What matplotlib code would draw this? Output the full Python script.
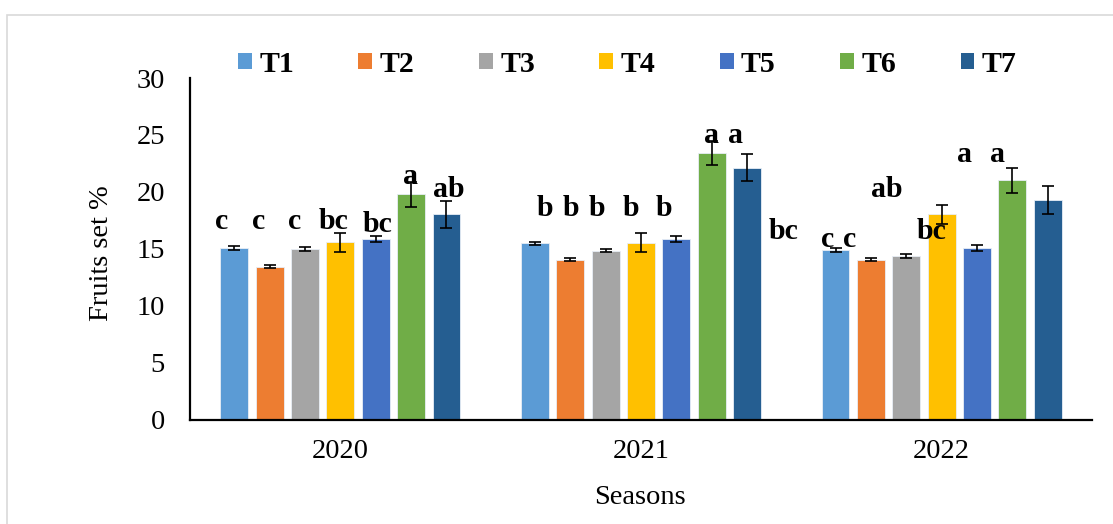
import matplotlib
matplotlib.use("Agg")
import matplotlib.pyplot as plt
import numpy as np
from matplotlib.patches import Patch, Rectangle

# ---------------- data ----------------
seasons = ["2020", "2021", "2022"]
treatments = ["T1", "T2", "T3", "T4", "T5", "T6", "T7"]
T1 = [15.10, 15.48, 14.90]
T2 = [13.43, 14.04, 14.04]
T3 = [14.98, 14.83, 14.37]
T4 = [15.57, 15.51, 18.03]
T5 = [15.83, 15.83, 15.07]
T6 = [19.79, 23.42, 21.02]
T7 = [18.03, 22.13, 19.29]
E1 = [0.17, 0.15, 0.15]
E2 = [0.15, 0.15, 0.15]
E3 = [0.17, 0.15, 0.15]
E4 = [0.83, 0.83, 0.85]
E5 = [0.25, 0.26, 0.26]
E6 = [1.10, 1.05, 1.10]
E7 = [1.20, 1.22, 1.22]
yticks = [0, 5, 10, 15, 20, 25, 30]

# significance letters per season
letters_2020 = ["c", "c", "c", "bc", "bc", "a", "ab"]
letters_2021 = ["b", "b", "b", "b", "b", "a", "a", "bc"]
letters_2022 = ["c", "c", "ab", "bc", "a", "a"]

# placement of the letters (x offset from season centre, baseline y)
lx_2020 = [-0.396, -0.272, -0.152, -0.022, 0.125, 0.235, 0.360]
ly_2020 = [16.74, 16.74, 16.74, 16.74, 16.50, 20.69, 19.58]
lx_2021 = [-0.318, -0.232, -0.146, -0.033, 0.078, 0.234, 0.314, 0.474]
ly_2021 = [17.88, 17.88, 17.88, 17.88, 17.88, 24.32, 24.32, 15.83]
lx_2022 = [-0.380, -0.307, -0.181, -0.033, 0.077, 0.185]
ly_2022 = [15.18, 15.18, 19.53, 15.86, 22.65, 22.65]

colors = ["#5B9BD5", "#ED7D31", "#A5A5A5", "#FFC000", "#4472C4", "#70AD47", "#255E91"]

plt.rcParams["font.family"] = ["Liberation Serif", "DejaVu Serif"]

W, H = 1113, 524
fig = plt.figure(figsize=(W / 100, H / 100), dpi=100)
ax = fig.add_axes([190 / W, 1 - 419.5 / H, (1092 - 190) / W, (419.5 - 78) / H])

values = [T1, T2, T3, T4, T5, T6, T7]
errs = [E1, E2, E3, E4, E5, E6, E7]
x = np.arange(len(seasons))
step = 0.1177
width = 0.093
for i, (v, e, c) in enumerate(zip(values, errs, colors)):
    pos = x + (i - 3) * step
    ax.bar(pos, v, width=width, color=c, edgecolor="#E8EEF6", linewidth=0.6, zorder=2)
    ax.errorbar(pos, v, yerr=e, fmt="none", ecolor="black", elinewidth=1.2,
                capsize=4.5, capthick=1.2, zorder=3)

for g, (labs, lx, ly) in enumerate([(letters_2020, lx_2020, ly_2020),
                                     (letters_2021, lx_2021, ly_2021),
                                     (letters_2022, lx_2022, ly_2022)]):
    for t, dx, yy in zip(labs, lx, ly):
        ax.text(g + dx, yy, t, ha="center", va="baseline", fontsize=21.5,
                fontweight="bold", color="black", zorder=4)

ax.set_xlim(-0.5, 2.5)
ax.set_ylim(0, 30)
ax.set_yticks(yticks)
ax.set_xticks(x)
ax.set_xticklabels(seasons)
ax.tick_params(axis="both", length=0, labelsize=20.5)
ax.tick_params(axis="y", pad=18)
ax.tick_params(axis="x", pad=14)
for s in ["top", "right"]:
    ax.spines[s].set_visible(False)
for s in ["left", "bottom"]:
    ax.spines[s].set_linewidth(1.6)
    ax.spines[s].set_color("black")

fig.text(101 / W, 1 - 253 / H, "Fruits set %", rotation=90, ha="center", va="center", fontsize=20.5)
fig.text(640 / W, 1 - 497 / H, "Seasons", ha="center", va="center", fontsize=20.5)

handles = [Patch(facecolor=c, edgecolor="none") for c in colors]
leg = fig.legend(handles, treatments, loc="center left", bbox_to_anchor=(238 / W, 1 - 64 / H),
                 ncol=7, frameon=False, handlelength=0.46, handleheight=0.46,
                 handletextpad=0.25, columnspacing=2.16, borderpad=0, borderaxespad=0,
                 prop={"family": "Liberation Serif", "weight": "bold", "size": 21.5})

fig.add_artist(Rectangle((7 / W, -0.1), 1.2, (1 - 15 / H) + 0.1, transform=fig.transFigure,
                         fill=False, edgecolor="#D9D9D9", linewidth=1.2))

fig.savefig("out.png", dpi=100)
